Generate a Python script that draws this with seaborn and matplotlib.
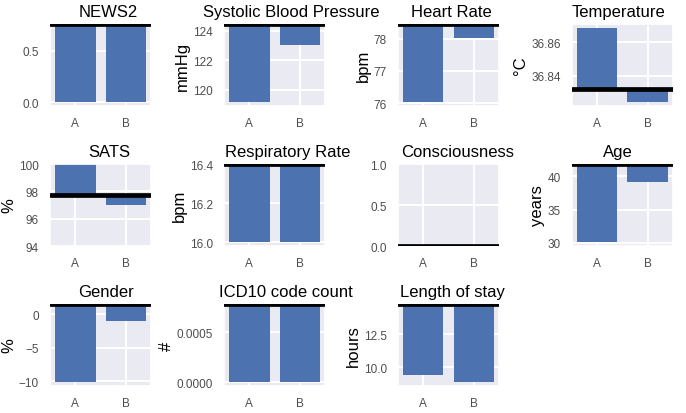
import numpy as np
import pandas as pd
import matplotlib
matplotlib.use("Agg")
import matplotlib.pyplot as plt
from matplotlib.ticker import MultipleLocator
import seaborn as sns

# ---- data ----
groups = ["A", "B"]
titles = ["NEWS2", "Systolic Blood Pressure", "Heart Rate", "Temperature",
          "SATS", "Respiratory Rate", "Consciousness", "Age",
          "Gender", "ICD10 code count", "Length of stay"]
units = ["", "mmHg", "bpm", "°C", "%", "bpm", "", "years", "%", "#", "hours"]
baseline = [0.76, 124.45, 78.45, 36.832, 97.72, 16.4, 0.0, 41.85, 1.5, 0.00078, 14.77]
value_a = [0.0, 119.15, 76.03, 36.8686, 100.0, 16.0, 0.0, 30.1, -10.15, 0.0, 9.43]
value_b = [0.0, 123.05, 78.02, 36.824, 97.0, 16.0, 0.0, 39.1, -1.1, 0.0, 8.90]
ytick_step = [0.5, 2, 1, 0.02, 2, 0.2, 0.5, 5, 5, 0.0005, 2.5]

# ---- layout / style (not data) ----
fixed_ylim = {4: (94, 100), 6: (0, 1)}
title_x = [0.574, 0.663, 0.532, 0.465, 0.589, 0.634, 0.592, 0.455, 0.554, 0.614, 0.535]

sns.set_theme(style="darkgrid")
plt.rcParams["font.family"] = ["Liberation Sans", "DejaVu Sans"]

fig, axes = plt.subplots(3, 4, figsize=(6.86, 4.14), dpi=100)
fig.subplots_adjust(left=0.073, right=0.981, top=0.9396, bottom=0.0652,
                    wspace=0.72, hspace=0.707)

for i, ax in enumerate(axes.flat):
    if i >= len(titles):
        ax.remove()
        continue
    df = pd.DataFrame({"group": groups,
                       "diff": [value_a[i] - baseline[i], value_b[i] - baseline[i]]})
    sns.barplot(data=df, x="group", y="diff", ax=ax, color="#4C72B0",
                saturation=1, errorbar=None, bottom=baseline[i], width=0.8,
                linewidth=0)
    ax.axhline(baseline[i], color="black", lw=3.4, zorder=5)
    if i in fixed_ylim:
        ax.set_ylim(*fixed_ylim[i])
    ax.set_xlim(-0.5, 1.5)
    ax.grid(True, axis="both", color="white", lw=1.4)
    ax.set_axisbelow(True)
    ax.set_title(titles[i], fontsize=12, x=title_x[i], color="black")
    ax.set_xlabel("")
    ax.set_ylabel(units[i], fontsize=12, color="black", labelpad=2)
    ax.tick_params(axis="both", labelsize=8.5, labelcolor="0.3", length=0, pad=8)
    ax.yaxis.set_major_locator(MultipleLocator(ytick_step[i]))

fig.savefig("out.png", dpi=100)
